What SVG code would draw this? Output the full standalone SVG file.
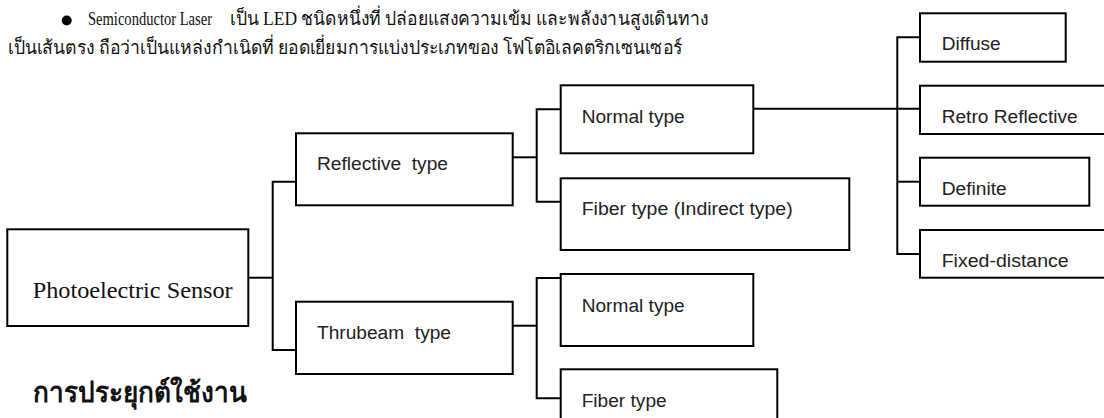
<svg xmlns="http://www.w3.org/2000/svg" width="1104" height="418" viewBox="0 0 1104 418">
<style>
.box{fill:#fff;stroke:#000;stroke-width:2}
.lbl{font-family:"Liberation Sans",Arial,sans-serif;font-size:18px;fill:#222;white-space:pre}
.ser{font-family:"Liberation Serif","Times New Roman",serif;fill:#111}
.conn{fill:none;stroke:#000;stroke-width:2}
</style>
<rect width="1104" height="418" fill="#fff"/>
<g id="intro">
<circle cx="66.7" cy="20.5" r="5" fill="#000"/>
<text class="ser" x="88" y="25" font-size="18" textLength="124" lengthAdjust="spacingAndGlyphs">Semiconductor Laser</text>
<text class="ser" x="230" y="25" font-size="19" textLength="478" lengthAdjust="spacingAndGlyphs">เป็น LED ชนิดหนึ่งที่ ปล่อยแสงความเข้ม และพลังงานสูงเดินทาง</text>
<text class="ser" x="8" y="54" font-size="19" textLength="674" lengthAdjust="spacingAndGlyphs">เป็นเส้นตรง ถือว่าเป็นแหล่งกำเนิดที่ ยอดเยี่ยมการแบ่งประเภทของ โฟโตอิเลคตริกเซนเซอร์</text>
</g>
<g id="connectors">
<polyline class="conn" points="248,277.7 272.7,277.7"/>
<polyline class="conn" points="296,181.7 272.7,181.7 272.7,350 296,350"/>
<polyline class="conn" points="512.7,157.3 536.7,157.3"/>
<polyline class="conn" points="560.7,109.3 536.7,109.3 536.7,201.7 560.7,201.7"/>
<polyline class="conn" points="512.7,325.7 536.7,325.7"/>
<polyline class="conn" points="560.7,278 536.7,278 536.7,398.3 560.7,398.3"/>
<polyline class="conn" points="753.3,108.7 920,108.7"/>
<polyline class="conn" points="920,37.3 897.3,37.3 897.3,254 920,254"/>
<polyline class="conn" points="897.3,181.7 920,181.7"/>
</g>
<g id="photoelectric">
<rect class="box" x="7.3" y="229.3" width="241" height="96.7"/>
<text class="ser" x="32.7" y="298.3" font-size="24" textLength="200" lengthAdjust="spacingAndGlyphs">Photoelectric Sensor</text>
</g>
<g id="reflective">
<rect class="box" x="296" y="133.3" width="216.7" height="72"/>
<text class="lbl" x="317" y="170" xml:space="preserve" textLength="131" lengthAdjust="spacingAndGlyphs">Reflective  type</text>
</g>
<g id="thrubeam">
<rect class="box" x="296" y="301.7" width="216.7" height="72.3"/>
<text class="lbl" x="317" y="339" xml:space="preserve" textLength="134" lengthAdjust="spacingAndGlyphs">Thrubeam  type</text>
</g>
<g id="normal-reflective">
<rect class="box" x="560.7" y="85.3" width="192.6" height="68"/>
<text class="lbl" x="581.7" y="122.7" textLength="103" lengthAdjust="spacingAndGlyphs">Normal type</text>
</g>
<g id="fiber-indirect">
<rect class="box" x="560.7" y="178.3" width="288.6" height="71.7"/>
<text class="lbl" x="581.7" y="215" textLength="211" lengthAdjust="spacingAndGlyphs">Fiber type (Indirect type)</text>
</g>
<g id="normal-thrubeam">
<rect class="box" x="560.7" y="274" width="192.6" height="72"/>
<text class="lbl" x="581.7" y="311.7" textLength="103" lengthAdjust="spacingAndGlyphs">Normal type</text>
</g>
<g id="fiber-thrubeam">
<rect class="box" x="560.7" y="369.3" width="216.6" height="60"/>
<text class="lbl" x="581.7" y="406.7" textLength="85" lengthAdjust="spacingAndGlyphs">Fiber type</text>
</g>
<g id="diffuse">
<rect class="box" x="920" y="13.3" width="145.7" height="48.4"/>
<text class="lbl" x="941.7" y="50" textLength="59" lengthAdjust="spacingAndGlyphs">Diffuse</text>
</g>
<g id="retro">
<rect class="box" x="920" y="85.7" width="200" height="48.3"/>
<text class="lbl" x="941.7" y="122.7" textLength="136" lengthAdjust="spacingAndGlyphs">Retro Reflective</text>
</g>
<g id="definite">
<rect class="box" x="920" y="157.7" width="169.3" height="48"/>
<text class="lbl" x="941.7" y="195" textLength="65" lengthAdjust="spacingAndGlyphs">Definite</text>
</g>
<g id="fixed">
<rect class="box" x="920" y="230" width="200" height="47.7"/>
<text class="lbl" x="941.7" y="266.7" textLength="127" lengthAdjust="spacingAndGlyphs">Fixed-distance</text>
</g>
<g id="heading">
<text class="ser" x="33" y="401.7" font-size="28" font-weight="bold" textLength="214" lengthAdjust="spacingAndGlyphs">การประยุกต์ใช้งาน</text>
</g>
</svg>
